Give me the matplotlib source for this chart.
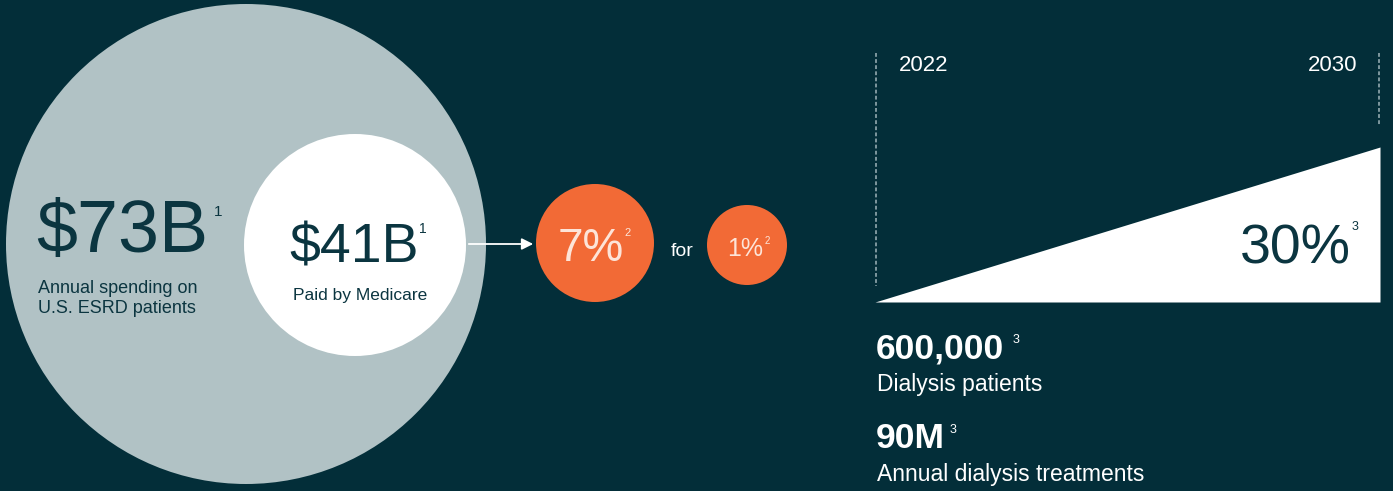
import matplotlib
matplotlib.use('Agg')
import matplotlib.pyplot as plt
from matplotlib.patches import Circle

plt.rcParams['font.family'] = ['Liberation Sans', 'DejaVu Sans']

# data
spend_values = ['$73B', '$41B']
spend_labels = ['Annual spending on\nU.S. ESRD patients', 'Paid by Medicare']
spend_notes = ['1', '1']
share_values = ['7%', '1%']
share_notes = ['2', '2']
share_joiner = 'for'
years = [2022, 2030]
growth = [0, 30]
growth_label = '30%'
growth_note = '3'
stat_values = ['600,000', '90M']
stat_labels = ['Dialysis patients', 'Annual dialysis treatments']
stat_notes = ['3', '3']

BG = '#032e39'
GREY = '#b1c2c5'
ORANGE = '#f26a36'
DARK = '#0b3540'
PEACH = '#fde4d8'
W, H = 1393, 491

fig = plt.figure(figsize=(W / 100, H / 100), dpi=100)
fig.patch.set_facecolor(BG)

# right: growth wedge, in its own axes (years vs growth %)
x0, x1, y0, y1 = 875, 1380, 302, 147
gx = fig.add_axes([x0 / W, 1 - y0 / H, (x1 - x0) / W, (y0 - y1) / H])
gx.set_xlim(years[0], years[1])
gx.set_ylim(0, growth[1])
gx.fill_between(years, [0, 0], growth, color='white', lw=0)
gx.axis('off')
gx.set_zorder(0)

ax = fig.add_axes([0, 0, 1, 1])
ax.set_xlim(0, W)
ax.set_ylim(H, 0)
ax.axis('off')
ax.set_zorder(1)

# left: spending circles
ax.add_patch(Circle((246, 244), 240, color=GREY, lw=0))
ax.add_patch(Circle((355, 245), 111, color='white', lw=0))

ax.text(36, 252, spend_values[0], fontsize=53, color=DARK, va='baseline', ha='left')
ax.text(214, 205, spend_notes[0], fontsize=11, color=DARK, va='top', ha='left')
ax.text(38, 313, spend_labels[0], fontsize=13, color=DARK, va='baseline', ha='left',
        linespacing=1.25)

ax.text(354, 262, spend_values[1], fontsize=40, color=DARK, va='baseline', ha='center')
ax.text(419, 222, spend_notes[1], fontsize=10, color=DARK, va='top', ha='left')
ax.text(360, 300, spend_labels[1], fontsize=12.5, color=DARK, va='baseline', ha='center')

# arrow to share circles
ax.annotate('', xy=(536, 244), xytext=(466, 244),
            arrowprops=dict(arrowstyle='-|>', color='white', lw=1.3, mutation_scale=17))

ax.add_patch(Circle((595, 243), 59, color=ORANGE, lw=0))
ax.add_patch(Circle((747, 245), 40, color=ORANGE, lw=0))
ax.text(591, 261, share_values[0], fontsize=33, color=PEACH, va='baseline', ha='center')
ax.text(624, 228, share_notes[0], fontsize=8, color=PEACH, va='top', ha='left')
ax.text(682, 256, share_joiner, fontsize=14, color='white', va='baseline', ha='center')
ax.text(745, 256, share_values[1], fontsize=18, color=PEACH, va='baseline', ha='center')
ax.text(765, 236, share_notes[1], fontsize=7, color=PEACH, va='top', ha='left')

ax.plot([876, 876], [53, 286], ls=(0, (2.5, 1.5)), color='#9fb4b9', lw=1.1)
ax.plot([1379, 1379], [53, 125], ls=(0, (2.5, 1.5)), color='#9fb4b9', lw=1.1)
ax.text(899, 71, str(years[0]), fontsize=16, color='white', va='baseline', ha='left')
ax.text(1357, 71, str(years[1]), fontsize=16, color='white', va='baseline', ha='right')
ax.text(1351, 264, growth_label, fontsize=40, color=DARK, va='baseline', ha='right')
ax.text(1352, 221, growth_note, fontsize=9, color=DARK, va='top', ha='left')

# stats
ax.text(876, 358, stat_values[0], fontsize=25.5, fontweight='bold', color='white', va='baseline')
ax.text(1013, 334, stat_notes[0], fontsize=9, color='white', va='top')
ax.text(877, 391, stat_labels[0], fontsize=16.5, color='white', va='baseline')
ax.text(876, 448, stat_values[1], fontsize=25.5, fontweight='bold', color='white', va='baseline')
ax.text(950, 424, stat_notes[1], fontsize=9, color='white', va='top')
ax.text(877, 481, stat_labels[1], fontsize=16.5, color='white', va='baseline')

fig.savefig('out.png', dpi=100, facecolor=BG)
